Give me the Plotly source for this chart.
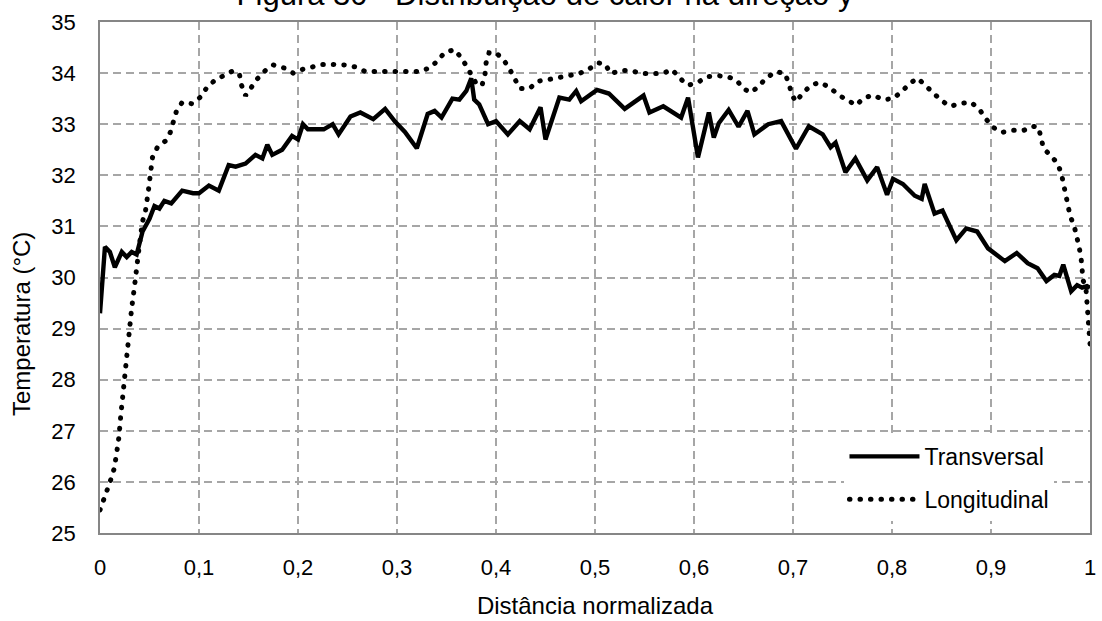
import plotly.graph_objects as go

# ---- data ----
trans_x = [0.000, 0.005, 0.010, 0.015, 0.022, 0.027, 0.032, 0.037, 0.043, 0.050,
           0.055, 0.060, 0.065, 0.072, 0.083, 0.094, 0.100, 0.110, 0.120, 0.130,
           0.137, 0.147, 0.157, 0.164, 0.169, 0.174, 0.184, 0.194, 0.200, 0.205,
           0.210, 0.226, 0.235, 0.241, 0.253, 0.263, 0.276, 0.288, 0.298, 0.308,
           0.320, 0.331, 0.338, 0.345, 0.356, 0.363, 0.370, 0.375, 0.378, 0.383,
           0.392, 0.400, 0.412, 0.424, 0.434, 0.445, 0.450, 0.464, 0.474, 0.481,
           0.486, 0.502, 0.514, 0.530, 0.549, 0.555, 0.569, 0.587, 0.594, 0.604,
           0.615, 0.620, 0.625, 0.635, 0.645, 0.654, 0.661, 0.675, 0.688, 0.703,
           0.716, 0.726, 0.730, 0.738, 0.743, 0.753, 0.763, 0.775, 0.785, 0.795,
           0.801, 0.811, 0.823, 0.830, 0.833, 0.843, 0.851, 0.865, 0.875, 0.886,
           0.897, 0.914, 0.926, 0.937, 0.947, 0.956, 0.964, 0.969, 0.973, 0.981,
           0.987, 0.992, 0.997, 1.000]
trans_y = [29.30, 30.60, 30.50, 30.20, 30.50, 30.40, 30.50, 30.45, 30.90, 31.15,
           31.40, 31.35, 31.50, 31.45, 31.70, 31.65, 31.65, 31.80, 31.70, 32.20,
           32.17, 32.23, 32.40, 32.33, 32.60, 32.40, 32.50, 32.77, 32.70, 33.00,
           32.90, 32.90, 33.00, 32.80, 33.15, 33.23, 33.10, 33.30, 33.05, 32.85,
           32.53, 33.20, 33.26, 33.13, 33.50, 33.48, 33.65, 33.90, 33.48, 33.39,
           33.00, 33.06, 32.80, 33.06, 32.90, 33.33, 32.70, 33.52, 33.48, 33.65,
           33.45, 33.67, 33.60, 33.30, 33.56, 33.23, 33.35, 33.13, 33.52, 32.35,
           33.23, 32.74, 33.02, 33.28, 32.95, 33.26, 32.80, 33.00, 33.06, 32.52,
           32.96, 32.84, 32.80, 32.55, 32.64, 32.06, 32.33, 31.90, 32.16, 31.62,
           31.93, 31.83, 31.60, 31.54, 31.83, 31.25, 31.31, 30.73, 30.96, 30.90,
           30.57, 30.32, 30.48, 30.28, 30.18, 29.93, 30.05, 30.03, 30.25, 29.73,
           29.85, 29.80, 29.83, 29.80]

long_x = [0.000, 0.004, 0.007, 0.011, 0.014, 0.016, 0.019, 0.021, 0.023, 0.025,
          0.027, 0.029, 0.031, 0.032, 0.035, 0.037, 0.040, 0.043, 0.046, 0.049,
          0.052, 0.053, 0.058, 0.066, 0.071, 0.074, 0.077, 0.083, 0.093, 0.102,
          0.108, 0.116, 0.125, 0.135, 0.141, 0.143, 0.147, 0.153, 0.159, 0.167,
          0.175, 0.186, 0.195, 0.204, 0.215, 0.225, 0.236, 0.247, 0.258, 0.268,
          0.322, 0.333, 0.341, 0.348, 0.358, 0.365, 0.371, 0.376, 0.381, 0.386,
          0.389, 0.390, 0.393, 0.400, 0.408, 0.414, 0.419, 0.424, 0.434, 0.442,
          0.452, 0.462, 0.473, 0.484, 0.494, 0.503, 0.510, 0.516, 0.526, 0.536,
          0.547, 0.568, 0.578, 0.585, 0.594, 0.604, 0.613, 0.624, 0.634, 0.643,
          0.650, 0.658, 0.666, 0.674, 0.683, 0.692, 0.696, 0.699, 0.703, 0.710,
          0.718, 0.727, 0.737, 0.746, 0.755, 0.764, 0.771, 0.781, 0.791, 0.801,
          0.810, 0.818, 0.826, 0.834, 0.842, 0.850, 0.859, 0.870, 0.880, 0.889,
          0.895, 0.902, 0.911, 0.922, 0.933, 0.942, 0.948, 0.951, 0.953, 0.960,
          0.967, 0.971, 0.975, 0.980, 0.984, 0.987, 0.989, 0.991, 0.992, 0.993,
          0.996, 0.997, 0.998, 1.000]
long_y = [25.45, 25.64, 25.83, 26.05, 26.24, 26.46, 26.86, 27.30, 27.72, 28.15,
          28.57, 28.98, 29.20, 29.40, 29.85, 30.25, 30.67, 31.10, 31.31, 31.72,
          32.14, 32.35, 32.55, 32.67, 32.84, 33.04, 33.24, 33.43, 33.40, 33.54,
          33.72, 33.86, 33.95, 34.05, 33.96, 33.76, 33.56, 33.72, 33.89, 34.05,
          34.16, 34.10, 34.00, 34.07, 34.13, 34.17, 34.17, 34.16, 34.12, 34.03,
          34.03, 34.10, 34.24, 34.40, 34.46, 34.30, 34.11, 33.93, 33.76, 33.77,
          33.99, 34.20, 34.40, 34.40, 34.25, 34.07, 33.87, 33.70, 33.70, 33.84,
          33.87, 33.91, 33.97, 33.99, 34.08, 34.20, 34.18, 33.99, 34.05, 34.05,
          33.99, 33.99, 34.07, 33.91, 33.76, 33.82, 33.93, 33.95, 33.93, 33.86,
          33.69, 33.62, 33.76, 33.92, 34.03, 33.99, 33.78, 33.57, 33.44, 33.61,
          33.76, 33.82, 33.72, 33.57, 33.47, 33.37, 33.51, 33.57, 33.48, 33.50,
          33.64, 33.80, 33.90, 33.76, 33.62, 33.46, 33.35, 33.41, 33.43, 33.27,
          33.10, 32.94, 32.84, 32.88, 32.88, 32.96, 32.94, 32.74, 32.53, 32.39,
          32.24, 32.04, 31.62, 31.20, 31.01, 30.80, 30.60, 30.38, 30.17, 29.95,
          29.76, 29.40, 29.10, 28.70]

x_tickvals = [0, 0.1, 0.2, 0.3, 0.4, 0.5, 0.6, 0.7, 0.8, 0.9, 1.0]
x_ticktext = ["0", "0,1", "0,2", "0,3", "0,4", "0,5", "0,6", "0,7", "0,8", "0,9", "1"]
y_tickvals = [25, 26, 27, 28, 29, 30, 31, 32, 33, 34, 35]
y_ticktext = ["25", "26", "27", "28", "29", "30", "31", "32", "33", "34", "35"]

FONT = "Liberation Sans, Arial, sans-serif"
GRID = "#a6a6a6"
AXIS = "#868686"

fig = go.Figure()
fig.add_trace(go.Scatter(
    x=trans_x, y=trans_y, mode="lines", name="Transversal",
    line=dict(color="#000000", width=4.4), legendgroup="a",
))
fig.add_trace(go.Scatter(
    x=long_x, y=long_y, mode="lines", name="Longitudinal",
    line=dict(color="#000000", width=5, dash="0.5px,10px"), legendgroup="b",
))

fig.update_layout(
    width=1102, height=621, autosize=False,
    margin=dict(l=100, r=6, t=22, b=84),
    paper_bgcolor="white", plot_bgcolor="white",
    font=dict(family=FONT, size=22, color="#000000"),
    title=dict(
        text="Figura 30 - Distribuição de calor na direção y",
        x=0.4946, xanchor="center", xref="container",
        y=1 - 5 / 621, yanchor="bottom", yref="container",
        font=dict(family=FONT, size=31, color="#000000"),
    ),
    showlegend=True,
    legend=dict(
        x=0.752, y=0.192, xanchor="left", yanchor="top",
        bgcolor="white", borderwidth=0,
        font=dict(family=FONT, size=23, color="#000000"),
        itemwidth=70, tracegroupgap=10, traceorder="grouped",
    ),
    xaxis=dict(
        range=[0, 1], tickvals=x_tickvals, ticktext=x_ticktext,
        showgrid=True, gridcolor=GRID, gridwidth=1.5, griddash="8px,5px",
        showline=True, linecolor=AXIS, linewidth=1.5, mirror=True,
        ticks="", zeroline=False, ticklabelstandoff=14,
        tickfont=dict(family=FONT, size=22, color="#000000"),
        title=dict(text="Distância normalizada", standoff=18,
                   font=dict(family=FONT, size=24, color="#000000")),
    ),
    yaxis=dict(
        range=[25, 35], tickvals=y_tickvals, ticktext=y_ticktext,
        showgrid=True, gridcolor=GRID, gridwidth=1.5, griddash="8px,5px",
        showline=True, linecolor=AXIS, linewidth=1.5, mirror=True,
        ticks="", zeroline=False, ticklabelstandoff=18,
        tickfont=dict(family=FONT, size=22, color="#000000"),
    ),
    annotations=[dict(
        text="Temperatura (°C)", textangle=-90,
        xref="paper", yref="paper", x=-0.0793, y=0.41,
        xanchor="center", yanchor="middle", showarrow=False,
        font=dict(family=FONT, size=24, color="#000000"),
    )],
)

post = """
var gd = document.getElementById('{plot_id}');
gd.querySelectorAll('path').forEach(function(p){
  var d = p.style.strokeDasharray || '';
  if (d.indexOf('0.5px') === 0) { p.style.strokeLinecap = 'round'; }
});
"""
fig.write_html("out.html", post_script=post)
